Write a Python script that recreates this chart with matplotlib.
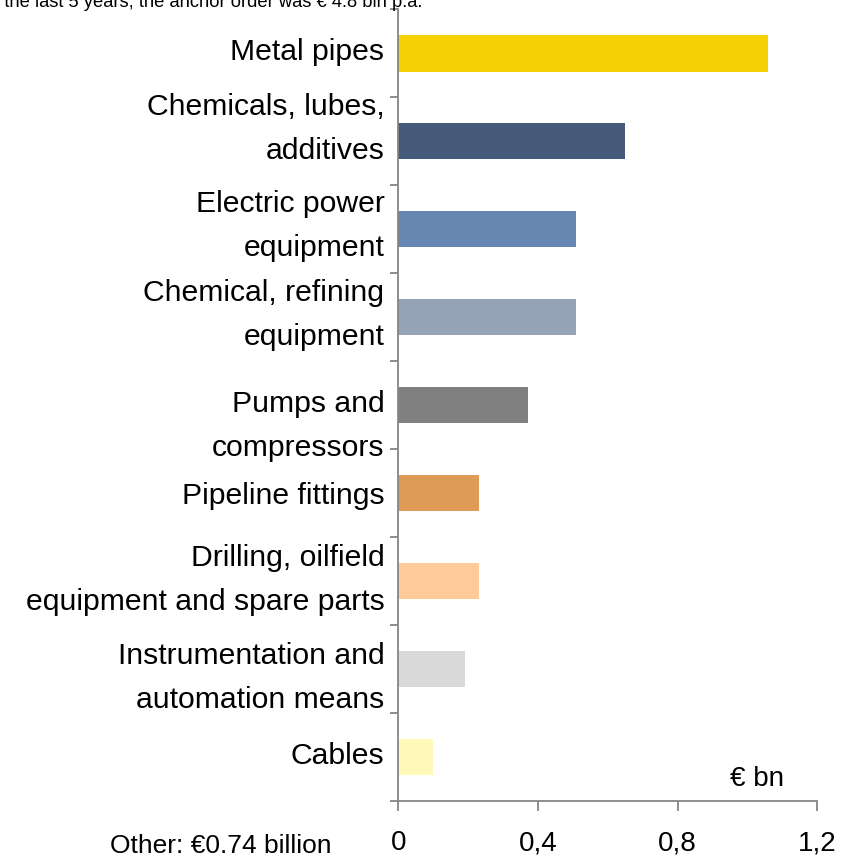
import matplotlib
matplotlib.use("Agg")
import matplotlib.pyplot as plt
import matplotlib.transforms as mtransforms
from matplotlib.ticker import FuncFormatter
import numpy as np

plt.rcParams['font.family'] = ['Liberation Sans', 'DejaVu Sans']

# ---- data ----
categories = [
    "Metal pipes",
    "Chemicals, lubes,\nadditives",
    "Electric power\nequipment",
    "Chemical, refining\nequipment",
    "Pumps and\ncompressors",
    "Pipeline fittings",
    "Drilling, oilfield\nequipment and spare parts",
    "Instrumentation and\nautomation means",
    "Cables",
]
values = [1.06, 0.65, 0.51, 0.51, 0.37, 0.23, 0.23, 0.19, 0.10]
colors = ["#F5D106", "#465A7A", "#6886B2", "#96A2B5", "#808080",
          "#DE9B55", "#FECA98", "#D9D9D9", "#FFFAB8"]
xticks = [0, 0.4, 0.8, 1.2]
title_text = "At the last 5 years, the anchor order was € 4.8 bln p.a."
other_text = "Other: €0.74 billion"
unit_text = "€ bn"

# ---- layout ----
W, H = 854, 858
fig = plt.figure(figsize=(W / 100, H / 100), dpi=100)
ax_l, ax_r, ax_t, ax_b = 398.5, 817, 9.5, 801
ax = fig.add_axes([ax_l / W, (H - ax_b) / H, (ax_r - ax_l) / W, (ax_b - ax_t) / H])

y = np.arange(len(categories))
ax.barh(y, values, height=0.41, color=colors, zorder=2)
ax.set_ylim(len(categories) - 0.5, -0.5)
ax.set_xlim(0, 1.2)

gray = "#868686"
for s in ["top", "right"]:
    ax.spines[s].set_visible(False)
for s in ["left", "bottom"]:
    ax.spines[s].set_color(gray)
    ax.spines[s].set_linewidth(1.3)

ax.set_yticks(np.arange(len(categories) + 1) - 0.5)
ax.set_yticklabels([])
ax.tick_params(axis="y", direction="out", length=6, width=1.3, color=gray)
ax.set_xticks(xticks)
ax.xaxis.set_major_formatter(FuncFormatter(lambda v, p: ("%g" % v).replace(".", ",")))
ax.tick_params(axis="x", direction="out", length=7, width=1.3, color=gray,
               labelsize=20, pad=14)

# category labels, each line placed separately
base_off = [7, -26, -17, -16, 7, 11, -15, -5, 7]   # px, first baseline below category centre
line_gap = 44  # px
blend = mtransforms.blended_transform_factory(ax.transAxes, ax.transData)
for i, lab in enumerate(categories):
    for j, line in enumerate(lab.split("\n")):
        dy = base_off[i] + j * line_gap
        tr = blend + mtransforms.ScaledTranslation(-14 / 100, -dy / 100, fig.dpi_scale_trans)
        ax.text(0, y[i], line, transform=tr, ha="right", va="baseline", fontsize=21.7)

fig.text(757 / W, 1 - 786 / H, unit_text, ha="center", va="baseline", fontsize=20)
fig.text(221 / W, 1 - 846 / H, other_text, ha="center", va="center", fontsize=19)
fig.text(422 / W, 1 - 7 / H, title_text, ha="right", va="baseline", fontsize=13.2)

fig.savefig("out.png", dpi=100)
